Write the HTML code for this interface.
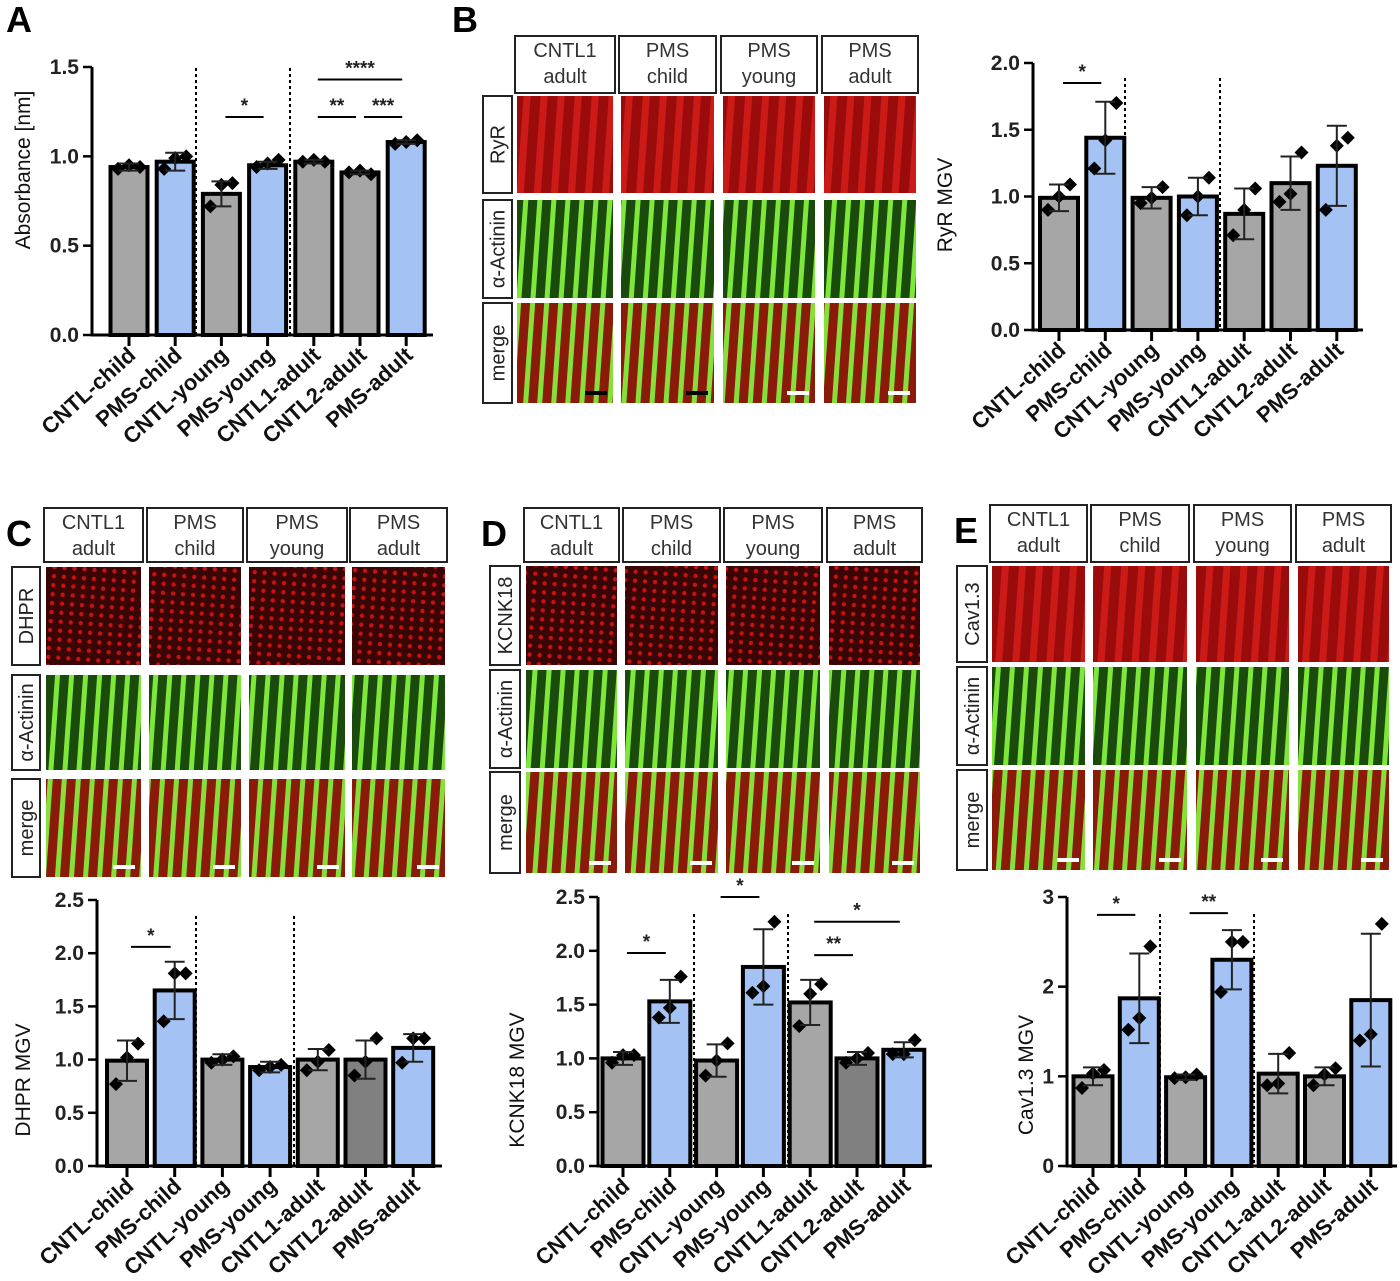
<!DOCTYPE html>
<html><head><meta charset="utf-8"><style>
html,body{margin:0;padding:0;background:#fff;}
svg{display:block;font-family:"Liberation Sans",Arial,sans-serif;}
</style></head><body>
<svg id="fig" width="1400" height="1281" viewBox="0 0 1400 1281" xmlns="http://www.w3.org/2000/svg">
<defs>
<pattern id="pRed" patternUnits="userSpaceOnUse" width="17" height="40" patternTransform="rotate(4)">
<rect width="17" height="40" fill="#9a0c0c"/><rect x="2" width="7" height="40" fill="#cc1a16"/></pattern>
<pattern id="pRedDot" patternUnits="userSpaceOnUse" width="10" height="9" patternTransform="rotate(4)">
<rect width="10" height="9" fill="#3a0505"/><circle cx="4" cy="4" r="2.2" fill="#c81212"/></pattern>
<pattern id="pGreen" patternUnits="userSpaceOnUse" width="14" height="40" patternTransform="rotate(4)">
<rect width="14" height="40" fill="#1a4a0c"/><rect x="4" width="5" height="40" fill="#7ee83a"/></pattern>
<pattern id="pMerge" patternUnits="userSpaceOnUse" width="14" height="40" patternTransform="rotate(4)">
<rect width="14" height="40" fill="#8a1a0a"/><rect x="4" width="5" height="40" fill="#86e03a"/></pattern>
</defs>
<g id="panels"></g>
<g id="charts"></g>
</svg>
<script>
// ---------- chart data ----------
const categories = ["CNTL-child","PMS-child","CNTL-young","PMS-young","CNTL1-adult","CNTL2-adult","PMS-adult"];
const aMeans = [0.94,0.97,0.79,0.95,0.97,0.91,1.08];
const aSd = [0.02,0.05,0.07,0.02,0.01,0.01,0.01];
const aPoints = [[0.93,0.95,0.94],[0.93,0.99,1.0],[0.72,0.84,0.85],[0.94,0.96,0.98],[0.97,0.98,0.97],[0.91,0.92,0.90],[1.07,1.08,1.09]];
const aTicks = ["0.0","0.5","1.0","1.5"];
const bMeans = [0.99,1.44,0.99,1.0,0.87,1.1,1.23];
const bSd = [0.1,0.27,0.08,0.14,0.19,0.2,0.3];
const bPoints = [[0.9,1.0,1.09],[1.21,1.42,1.7],[0.95,0.99,1.07],[0.86,1.0,1.14],[0.71,0.9,1.06],[0.96,1.02,1.33],[0.9,1.38,1.44]];
const bTicks = ["0.0","0.5","1.0","1.5","2.0"];
const cMeans = [0.99,1.65,1.0,0.93,1.0,1.0,1.11];
const cSd = [0.19,0.27,0.05,0.05,0.1,0.18,0.13];
const cPoints = [[0.77,1.02,1.15],[1.36,1.81,1.81],[0.97,1.0,1.03],[0.9,0.93,0.95],[0.9,0.98,1.09],[0.85,0.98,1.2],[0.97,1.2,1.2]];
const cTicks = ["0.0","0.5","1.0","1.5","2.0","2.5"];
const dMeans = [1.0,1.53,0.98,1.85,1.52,1.0,1.08];
const dSd = [0.06,0.2,0.15,0.35,0.21,0.06,0.07];
const dPoints = [[0.96,1.03,1.03],[1.38,1.47,1.76],[0.84,0.98,1.14],[1.61,1.67,2.27],[1.3,1.6,1.69],[0.96,1.0,1.05],[1.04,1.04,1.17]];
const dTicks = ["0.0","0.5","1.0","1.5","2.0","2.5"];
const eMeans = [1.0,1.87,0.99,2.3,1.03,1.0,1.85];
const eSd = [0.1,0.5,0.03,0.33,0.22,0.1,0.74];
const ePoints = [[0.87,1.03,1.07],[1.52,1.65,2.45],[0.98,0.99,1.02],[1.94,2.5,2.5],[0.9,0.92,1.26],[0.9,1.02,1.09],[1.4,1.47,2.7]];
const eTicks = ["0","1","2","3"];
const aSig = [[2,3,1.22,"*"],[4,5,1.22,"**"],[5,6,1.22,"***"],[4,6,1.43,"****"]];
const bSig = [[0,1,1.85,"*"]];
const cSig = [[0,1,2.06,"*"]];
const dSig = [[0,1,1.98,"*"],[2,3,2.5,"*"],[4,5,1.96,"**"],[4,6,2.27,"*"]];
const eSig = [[0,1,2.8,"*"],[2,3,2.82,"**"]];
const colorsA = ["g","b","g","b","g","g","b"];
const colorsCD = ["g","b","g","b","g","d","b"];

const NS="http://www.w3.org/2000/svg";
function el(tag,attrs,parent){const e=document.createElementNS(NS,tag);for(const k in attrs)e.setAttribute(k,attrs[k]);parent.appendChild(e);return e;}
const fills={g:"#a6a6a6",b:"#a4c2f4",d:"#808080"};

function drawChart(cfg){
  const root=document.getElementById('charts');
  const g=el('g',{},root);
  
  
  const yMax=cfg.ticks.length-1, tickStep=cfg.tickStep;
  const top=yMax*tickStep;
  const y=v=>cfg.y0-(v/top)*(cfg.y0-cfg.yTop);
  const x=i=>cfg.c0+i*cfg.step;
  const ax=el('line',{x1:cfg.ax,y1:cfg.yTop,x2:cfg.ax,y2:cfg.y0+1.5,stroke:"#000","stroke-width":3},g);
  
  
  cfg.ticks.forEach((t,k)=>{
    const yy=y(k*tickStep);
    el('line',{x1:cfg.ax-9,y1:yy,x2:cfg.ax,y2:yy,stroke:"#000","stroke-width":2.5},g);
    const tx=el('text',{x:cfg.ax-13,y:yy+7,"text-anchor":"end","font-size":21,"font-weight":"bold",fill:"#222"},g);
    tx.textContent=t;
    
    
  });
  const yl=el('text',{transform:`translate(${cfg.ylx},${cfg.yly}) rotate(-90)`,"text-anchor":"middle","font-size":21,fill:"#111"},g);
  yl.textContent=cfg.ylabel;
  
  
  cfg.dashes.forEach(dx=>{
    const d=el('line',{x1:dx,y1:cfg.dashTop,x2:dx,y2:cfg.y0,stroke:"#000","stroke-width":2,"stroke-dasharray":"3,3"},g);
    
    
  });
  cfg.means.forEach((m,i)=>{
    const cx=x(i), w=cfg.bw;
    const r=el('rect',{x:cx-w/2,y:y(m),width:w,height:cfg.y0-y(m),fill:fills[cfg.colors[i]],stroke:"#000","stroke-width":4},g);
    
    
    cfg.points[i].forEach((p,j)=>{
      const px=cx+(j-1)*11, py=y(p), s=7;
      const pt=el('polygon',{points:`${px},${py-s} ${px+s},${py} ${px},${py+s} ${px-s},${py}`,fill:"#000"},g);
      
      
    });
    const sd=cfg.sd[i];
    const eb=el('path',{d:`M${cx},${y(m-sd)}V${y(m+sd)}M${cx-10},${y(m+sd)}H${cx+10}M${cx-10},${y(m-sd)}H${cx+10}`,stroke:"#222","stroke-width":2,fill:"none"},g);
    
    
    el('line',{x1:cx,y1:cfg.y0,x2:cx,y2:cfg.y0+11,stroke:"#000","stroke-width":3},g);
    const lb=el('text',{transform:`translate(${cx+8},${cfg.y0+22}) rotate(-42)`,"text-anchor":"end","font-size":22,"font-weight":"bold",fill:"#111"},g);
    lb.textContent=categories[i];
    
    
  });
  const xa=el('line',{x1:cfg.ax-1.5,y1:cfg.y0,x2:cfg.xEnd,y2:cfg.y0,stroke:"#000","stroke-width":3},g);
  
  
  cfg.sig.forEach(s=>{
    const yy=y(s[2]);
    const x1=x(s[0])+4, x2=x(s[1])-4;
    const ln=el('line',{x1:x1,y1:yy,x2:x2,y2:yy,stroke:"#000","stroke-width":2},g);
    
    
    const st=el('text',{x:(x1+x2)/2,y:yy-5,"text-anchor":"middle","font-size":19,"font-weight":"bold",fill:"#222"},g);
    st.textContent=s[3];
    
    
  });
}

drawChart({name:"chart-a-absorbance",means:aMeans,sd:aSd,points:aPoints,ticks:aTicks,tickStep:0.5,sig:aSig,colors:colorsA,
  ax:92,y0:335,yTop:67,c0:129,step:46.2,bw:37,xEnd:433,dashes:[196,290],dashTop:68,ylabel:"Absorbance [nm]",ylx:30,yly:170});
drawChart({name:"chart-b-ryr",means:bMeans,sd:bSd,points:bPoints,ticks:bTicks,tickStep:0.5,sig:bSig,colors:colorsA,
  ax:1033,y0:330,yTop:63,c0:1059,step:46.3,bw:38,xEnd:1363,dashes:[1125,1220],dashTop:78,ylabel:"RyR MGV",ylx:952,yly:205});
drawChart({name:"chart-c-dhpr",means:cMeans,sd:cSd,points:cPoints,ticks:cTicks,tickStep:0.5,sig:cSig,colors:colorsCD,
  ax:97,y0:1166,yTop:900,c0:127,step:47.7,bw:40,xEnd:442,dashes:[196,294],dashTop:916,ylabel:"DHPR MGV",ylx:30,yly:1080});
drawChart({name:"chart-d-kcnk18",means:dMeans,sd:dSd,points:dPoints,ticks:dTicks,tickStep:0.5,sig:dSig,colors:colorsCD,
  ax:598,y0:1166,yTop:897,c0:623,step:46.8,bw:41,xEnd:932,dashes:[694,788],dashTop:914,ylabel:"KCNK18 MGV",ylx:524,yly:1080});
drawChart({name:"chart-e-cav13",means:eMeans,sd:eSd,points:ePoints,ticks:eTicks,tickStep:1,sig:eSig,colors:colorsA,
  ax:1067,y0:1166,yTop:897,c0:1093,step:46.3,bw:39,xEnd:1397,dashes:[1160,1254],dashTop:914,ylabel:"Cav1.3 MGV",ylx:1033,yly:1075});

// ---------- microscopy panels ----------
const headerTop = ["CNTL1","PMS","PMS","PMS"];
const headerBot = ["adult","child","young","adult"];
function drawPanel(p){
  const root=document.getElementById('panels');
  const g=el('g',{},root);
  
  
  p.cols.forEach((c,i)=>{
    const hb=el('rect',{x:c[0],y:p.hy[0],width:c[1]-c[0],height:p.hy[1]-p.hy[0],fill:"#fff",stroke:"#222","stroke-width":2},g);
    
    
    const cx=(c[0]+c[1])/2;
    const t1=el('text',{x:cx,y:p.hy[0]+21,"text-anchor":"middle","font-size":20,fill:"#333"},g);t1.textContent=headerTop[i];
    const t2=el('text',{x:cx,y:p.hy[0]+47,"text-anchor":"middle","font-size":20,fill:"#333"},g);t2.textContent=headerBot[i];
    p.rows.forEach((r,k)=>{
      const fill=k===0?(p.dots?"url(#pRedDot)":"url(#pRed)"):(k===1?"url(#pGreen)":"url(#pMerge)");
      const im=el('rect',{x:c[0]+2,y:r[0],width:c[1]-c[0]-4,height:r[1]-r[0],fill:fill},g);
      
      
      if(k===2){
        el('line',{x1:c[1]-30,y1:r[1]-10,x2:c[1]-8,y2:r[1]-10,stroke:p.black&&i<2?"#000":"#fff","stroke-width":4},g);
      }
    });
  });
  p.rows.forEach((r,k)=>{
    const lb=el('rect',{x:p.lx[0],y:r[0],width:p.lx[1]-p.lx[0],height:r[1]-r[0],fill:"#fff",stroke:"#222","stroke-width":2},g);
    
    
    const t=el('text',{transform:`translate(${(p.lx[0]+p.lx[1])/2+7},${(r[0]+r[1])/2}) rotate(-90)`,"text-anchor":"middle","font-size":20,fill:"#222"},g);
    t.textContent=[p.label,"α-Actinin","merge"][k];
  });
}
drawPanel({name:"panel-b-images",label:"RyR",black:true,hy:[36,93],lx:[483,512],
  cols:[[515,615],[619,716],[721,817],[822,918]],rows:[[96,193],[200,298],[303,403]]});
drawPanel({name:"panel-c-images",label:"DHPR",dots:true,hy:[508,562],lx:[12,40],
  cols:[[44,143],[147,243],[247,347],[350,447]],rows:[[567,665],[675,770],[779,877]]});
drawPanel({name:"panel-d-images",label:"KCNK18",dots:true,hy:[508,562],lx:[490,520],
  cols:[[524,619],[623,720],[724,822],[827,922]],rows:[[566,665],[670,768],[772,873]]});
drawPanel({name:"panel-e-images",label:"Cav1.3",hy:[505,562],lx:[957,987],
  cols:[[990,1087],[1091,1189],[1194,1291],[1296,1391]],rows:[[566,662],[667,765],[770,870]]});

const letters=[["A",6,32],["B",452,32],["C",6,546],["D",481,546],["E",954,543]];
const rootL=document.getElementById('charts');
letters.forEach(l=>{
  const t=el('text',{x:l[1],y:l[2],"font-size":36,"font-weight":"bold",fill:"#000"},rootL);
  t.textContent=l[0];
  
  
});
</script>
</body></html>
